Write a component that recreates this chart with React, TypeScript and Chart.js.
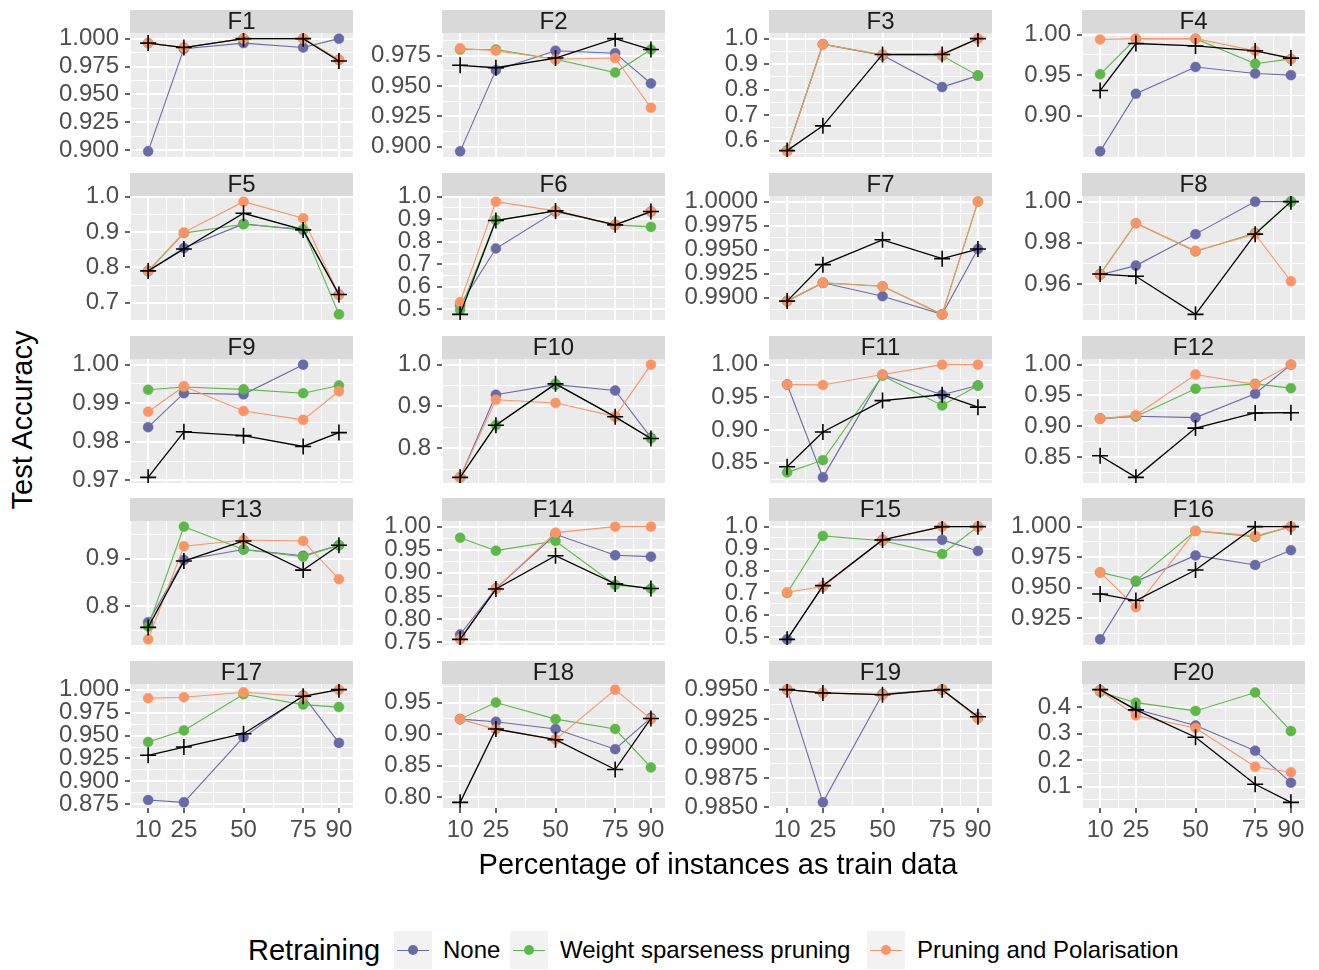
import React, { useEffect, useRef } from 'react';
import { Chart, registerables } from 'chart.js';

Chart.register(...registerables);

// ---------------- data ----------------
const X_VALUES = [10, 25, 50, 75, 90];
const PANEL_TITLES = ['F1', 'F2', 'F3', 'F4', 'F5', 'F6', 'F7', 'F8', 'F9', 'F10',
  'F11', 'F12', 'F13', 'F14', 'F15', 'F16', 'F17', 'F18', 'F19', 'F20'];
const SERIES_NAMES = ['None', 'Weight sparseness pruning', 'Pruning and Polarisation'];
const SERIES_COLORS = ['#6A6AA8', '#5CB947', '#FC9465'];

const NONE_VALUES: (number | null)[][] = [
  [0.899, 0.991, 0.996, 0.992, 1.000],
  [0.896, 0.963, 0.979, 0.977, 0.952],
  [0.561, 0.978, 0.935, 0.810, 0.855],
  [0.856, 0.927, 0.960, 0.952, 0.950],
  [0.790, 0.855, 0.923, 0.906, 0.723],
  [0.520, 0.770, 0.934, 0.875, 0.934],
  [0.98966, 0.99157, 0.99017, 0.98828, 0.99507],
  [0.9645, 0.9689, 0.9842, 1.0, 1.0],
  [0.9838, 0.9926, 0.9923, 1.0, null],
  [0.730, 0.928, 0.952, 0.938, 0.825],
  [0.9696, 0.8277, 0.9843, 0.9539, 0.968],
  [0.9124, 0.9161, 0.914, 0.9527, 1.0],
  [0.767, 0.897, 0.919, 0.906, 0.928],
  [0.7665, 0.866, 0.9835, 0.938, 0.935],
  [0.49, 0.729, 0.94, 0.94, 0.89],
  [0.9076, 0.955, 0.9764, 0.9686, 0.9807],
  [0.8797, 0.8772, 0.9483, 0.9935, 0.942],
  [0.9237, 0.9195, 0.908, 0.876, 0.9258],
  [0.995, 0.98543, 0.99463, 0.995, 0.99264],
  [0.463, 0.391, 0.330, 0.235, 0.115],
];

const WEIGHT_VALUES: (number | null)[][] = [
  [0.996, 0.992, 1.000, 1.000, 0.981],
  [0.980, 0.980, 0.972, 0.961, 0.980],
  [0.561, 0.978, 0.935, 0.933, 0.855],
  [0.951, 0.995, 0.995, 0.964, 0.970],
  [0.789, 0.897, 0.922, 0.908, 0.667],
  [0.498, 0.896, 0.937, 0.875, 0.866],
  [0.98966, 0.99155, 0.99120, 0.98828, 1.0],
  [0.9648, 0.9895, 0.9758, 0.9847, 1.0],
  [0.9935, 0.9942, 0.9936, 0.9926, 0.9946],
  [0.730, 0.855, 0.954, 0.875, 0.823],
  [0.8353, 0.854, 0.983, 0.9377, 0.968],
  [0.9124, 0.916, 0.9608, 0.9688, 0.9618],
  [0.758, 0.967, 0.919, 0.904, 0.928],
  [0.976, 0.948, 0.969, 0.874, 0.866],
  [0.70, 0.958, 0.936, 0.876, 1.0],
  [0.9625, 0.9557, 0.9965, 0.9916, 1.0],
  [0.943, 0.9556, 0.995, 0.9837, 0.981],
  [0.9237, 0.95, 0.9237, 0.908, 0.847],
  [0.995, 0.99472, 0.99457, 0.995, 0.99258],
  [0.457, 0.416, 0.385, 0.454, 0.309],
];

const POLAR_VALUES: (number | null)[][] = [
  [0.996, 0.992, 1.000, 1.000, 0.981],
  [0.981, 0.979, 0.972, 0.973, 0.932],
  [0.558, 0.978, 0.938, 0.935, 1.000],
  [0.994, 0.995, 0.995, 0.980, 0.970],
  [0.790, 0.899, 0.986, 0.939, 0.722],
  [0.532, 0.978, 0.937, 0.875, 0.934],
  [0.98966, 0.99155, 0.99120, 0.98828, 1.0],
  [0.9645, 0.9895, 0.9761, 0.9842, 0.9613],
  [0.9878, 0.9944, 0.9880, 0.9857, 0.9931],
  [0.730, 0.916, 0.908, 0.876, 1.0],
  [0.9696, 0.969, 0.985, 1.0, 1.0],
  [0.912, 0.918, 0.984, 0.968, 1.0],
  [0.731, 0.926, 0.939, 0.937, 0.857],
  [0.756, 0.866, 0.987, 1.0, 1.0],
  [0.703, 0.729, 0.94, 1.0, 1.0],
  [0.9625, 0.934, 0.9965, 0.9924, 1.0],
  [0.9906, 0.9917, 0.9971, 0.9928, 1.0],
  [0.9237, 0.9074, 0.8916, 0.9705, 0.9237],
  [0.995, 0.99472, 0.99455, 0.995, 0.99258],
  [0.461, 0.368, 0.321, 0.175, 0.154],
];

const BASELINE_VALUES: (number | null)[][] = [
  [0.996, 0.992, 1.000, 1.000, 0.980],
  [0.967, 0.965, 0.973, 0.989, 0.980],
  [0.561, 0.658, 0.938, 0.938, 1.000],
  [0.931, 0.989, 0.986, 0.980, 0.971],
  [0.790, 0.852, 0.953, 0.906, 0.723],
  [0.478, 0.894, 0.937, 0.875, 0.934],
  [0.98966, 0.99345, 0.99603, 0.99407, 0.99507],
  [0.9648, 0.9637, 0.9452, 0.9842, 1.0],
  [0.9708, 0.9826, 0.9816, 0.9788, 0.9824],
  [0.730, 0.855, 0.954, 0.875, 0.823],
  [0.844, 0.897, 0.945, 0.954, 0.935],
  [0.852, 0.817, 0.897, 0.9215, 0.922],
  [0.756, 0.895, 0.937, 0.876, 0.928],
  [0.756, 0.865, 0.937, 0.876, 0.866],
  [0.49, 0.733, 0.94, 1.0, 1.0],
  [0.9448, 0.9394, 0.9644, 1.0, 1.0],
  [0.9285, 0.9375, 0.952, 0.9928, 1.0],
  [0.7916, 0.908, 0.891, 0.8437, 0.9247],
  [0.995, 0.99472, 0.99457, 0.995, 0.9927],
  [0.465, 0.389, 0.286, 0.109, 0.041],
];

const Y_TICKS: number[][] = [
  [0.9, 0.925, 0.95, 0.975, 1.0],
  [0.9, 0.925, 0.95, 0.975],
  [0.6, 0.7, 0.8, 0.9, 1.0],
  [0.9, 0.95, 1.0],
  [0.7, 0.8, 0.9, 1.0],
  [0.5, 0.6, 0.7, 0.8, 0.9, 1.0],
  [0.99, 0.9925, 0.995, 0.9975, 1.0],
  [0.96, 0.98, 1.0],
  [0.97, 0.98, 0.99, 1.0],
  [0.8, 0.9, 1.0],
  [0.85, 0.9, 0.95, 1.0],
  [0.85, 0.9, 0.95, 1.0],
  [0.8, 0.9],
  [0.75, 0.8, 0.85, 0.9, 0.95, 1.0],
  [0.5, 0.6, 0.7, 0.8, 0.9, 1.0],
  [0.925, 0.95, 0.975, 1.0],
  [0.875, 0.9, 0.925, 0.95, 0.975, 1.0],
  [0.8, 0.85, 0.9, 0.95],
  [0.985, 0.9875, 0.99, 0.9925, 0.995],
  [0.1, 0.2, 0.3, 0.4],
];
const Y_DECIMALS = [3, 3, 1, 2, 1, 1, 4, 2, 2, 1, 2, 2, 1, 2, 1, 3, 3, 2, 4, 1];

// ---------------- layout / style ----------------
const FONT = '"Liberation Sans", Arial, Helvetica, sans-serif';
const COL_LEFT = [130, 442, 769, 1082];
const ROW_TOP = [10, 173, 336, 498, 661];
const PANEL_W = 223;
const PANEL_H = 124;
const STRIP_H = 23;
const Y_AXIS_W = 88;
const X_AXIS_H = 45;
const OVERFLOW_H = 14;
const X_MIN = 2.4;
const X_MAX = 95.9;
const TICK_FONT = 24;

Chart.defaults.font.family = FONT;

const near = (a: number, b: number) => Math.abs(a - b) < 1e-9;

function minorBreaks(majors: number[], lo: number, hi: number): number[] {
  const bd = majors[1] - majors[0];
  const b = [...majors];
  if (lo < b[0]) b.unshift(b[0] - bd);
  if (hi > b[b.length - 1]) b.push(b[b.length - 1] + bd);
  const out: number[] = [];
  for (let i = 0; i < b.length - 1; i++) out.push((b[i] + b[i + 1]) / 2);
  return out.filter((v) => v >= lo && v <= hi && !majors.some((m) => near(m, v)));
}

const stripPlugin = {
  id: 'facetStrip',
  beforeDraw(chart: any, _args: any, opts: any) {
    const { ctx, chartArea: a } = chart;
    ctx.save();
    ctx.fillStyle = '#EBEBEB';
    ctx.fillRect(a.left, a.top, a.right - a.left, a.bottom - a.top);
    ctx.fillStyle = '#D9D9D9';
    ctx.fillRect(a.left, a.top - STRIP_H, a.right - a.left, STRIP_H);
    ctx.fillStyle = '#1A1A1A';
    ctx.font = `${TICK_FONT}px ${FONT}`;
    ctx.textAlign = 'center';
    ctx.textBaseline = 'middle';
    ctx.fillText(opts.text, (a.left + a.right) / 2, a.top - STRIP_H / 2 + 1);
    ctx.restore();
  },
};

function Panel({ index }: { index: number }) {
  const ref = useRef<HTMLCanvasElement>(null);
  const col = index % 4;
  const row = Math.floor(index / 4);
  const isBottom = row === 4;
  const bottomPad = isBottom ? 0 : OVERFLOW_H;
  const width = Y_AXIS_W + PANEL_W;
  const height = STRIP_H + PANEL_H + (isBottom ? X_AXIS_H : OVERFLOW_H);

  useEffect(() => {
    if (!ref.current) return;
    const seriesRows = [BASELINE_VALUES[index], POLAR_VALUES[index], WEIGHT_VALUES[index], NONE_VALUES[index]];
    const all = seriesRows.flat().filter((v) => v !== null) as number[];
    const lo = Math.min(...all);
    const hi = Math.max(...all);
    const pad = (hi - lo) * 0.05;
    const yMin = lo - pad;
    const yMax = hi + pad;
    const yMajors = Y_TICKS[index].filter((v) => v >= yMin && v <= yMax);
    const yTicks = [...yMajors, ...minorBreaks(Y_TICKS[index], yMin, yMax)].sort((a, b) => a - b);
    const xTicks = [...X_VALUES, ...minorBreaks(X_VALUES, X_MIN, X_MAX)].sort((a, b) => a - b);
    const isXMajor = (v: number) => X_VALUES.some((m) => near(m, v));
    const isYMajor = (v: number) => yMajors.some((m) => near(m, v));

    const toPoints = (vals: (number | null)[]) =>
      X_VALUES.map((x, i) => ({ x, y: vals[i] })).filter((p) => p.y !== null);

    const colored = [2, 1, 0].map((s) => ({
      label: SERIES_NAMES[s],
      data: toPoints([NONE_VALUES, WEIGHT_VALUES, POLAR_VALUES][s][index]),
      borderColor: SERIES_COLORS[s],
      backgroundColor: SERIES_COLORS[s],
      borderWidth: 1.1,
      pointRadius: 5,
      pointBorderWidth: 0.5,
      pointStyle: 'circle',
      pointBackgroundColor: SERIES_COLORS[s],
      pointBorderColor: SERIES_COLORS[s],
    }));
    const baseline = {
      label: 'Baseline',
      data: toPoints(BASELINE_VALUES[index]),
      borderColor: '#000000',
      backgroundColor: '#000000',
      borderWidth: 1.3,
      pointRadius: 8,
      pointBorderWidth: 1.6,
      pointStyle: 'cross',
      pointBorderColor: '#000000',
    };

    const chart = new Chart(ref.current, {
      type: 'line',
      data: { datasets: [baseline, ...colored] as any },
      plugins: [stripPlugin as any],
      options: {
        animation: false,
        responsive: false,
        maintainAspectRatio: false,
        layout: { autoPadding: false, padding: { top: STRIP_H, left: 0, right: 0, bottom: bottomPad } },
        plugins: {
          legend: { display: false },
          tooltip: { enabled: false },
          title: { display: false },
          facetStrip: { text: PANEL_TITLES[index] },
        } as any,
        scales: {
          x: {
            type: 'linear',
            min: X_MIN,
            max: X_MAX,
            afterBuildTicks: (s: any) => {
              s.ticks = xTicks.map((v) => ({ value: v }));
            },
            afterFit: (s: any) => {
              s.height = isBottom ? X_AXIS_H : 0;
              s.paddingLeft = 0;
              s.paddingRight = 0;
            },
            border: { display: false },
            grid: {
              color: '#FFFFFF',
              lineWidth: (c: any) => (c.tick && isXMajor(c.tick.value) ? 2 : 1),
              drawTicks: isBottom,
              tickLength: 5,
              tickWidth: 1.5,
              tickColor: (c: any) => (c.tick && isXMajor(c.tick.value) ? '#333333' : 'rgba(0,0,0,0)'),
            },
            ticks: {
              display: isBottom,
              autoSkip: false,
              maxRotation: 0,
              padding: 3,
              color: '#4D4D4D',
              font: { size: TICK_FONT, family: FONT },
              callback: (v: any) => (isXMajor(Number(v)) ? String(v) : ''),
            },
          },
          y: {
            type: 'linear',
            min: yMin,
            max: yMax,
            afterBuildTicks: (s: any) => {
              s.ticks = yTicks.map((v) => ({ value: v }));
            },
            afterFit: (s: any) => {
              s.width = Y_AXIS_W;
              s.paddingTop = 0;
              s.paddingBottom = 0;
            },
            border: { display: false },
            grid: {
              color: '#FFFFFF',
              lineWidth: (c: any) => (c.tick && isYMajor(c.tick.value) ? 2 : 1),
              drawTicks: true,
              tickLength: 5,
              tickWidth: 1.5,
              tickColor: (c: any) => (c.tick && isYMajor(c.tick.value) ? '#333333' : 'rgba(0,0,0,0)'),
            },
            ticks: {
              autoSkip: false,
              padding: 6,
              color: '#4D4D4D',
              font: { size: TICK_FONT, family: FONT },
              callback: (v: any) => (isYMajor(Number(v)) ? Number(v).toFixed(Y_DECIMALS[index]) : ''),
            },
          },
        },
      },
    });
    return () => chart.destroy();
  }, [index]);

  return (
    <canvas
      ref={ref}
      width={width}
      height={height}
      style={{
        position: 'absolute',
        left: COL_LEFT[col] - Y_AXIS_W,
        top: ROW_TOP[row],
        width,
        height,
      }}
    />
  );
}

function LegendKey({ color }: { color: string }) {
  return (
    <div style={{ position: 'relative', width: 38, height: 38, background: '#F2F2F2' }}>
      <div style={{ position: 'absolute', left: 3, right: 3, top: 18.5, height: 1.2, background: color }} />
      <div style={{ position: 'absolute', left: 14, top: 14, width: 10, height: 10, borderRadius: '50%', background: color }} />
    </div>
  );
}

export default function App() {
  const legendLefts = [394, 510, 867];
  const legendTextLefts = [443, 560, 917];
  return (
    <div style={{ position: 'absolute', left: 0, top: 0, width: 1319, height: 970, background: '#FFFFFF', fontFamily: FONT, overflow: 'hidden' }}>
      {PANEL_TITLES.map((_, i) => (
        <Panel key={i} index={i} />
      ))}
      <div style={{ position: 'absolute', left: 22, top: 420, transform: 'translate(-50%, -50%) rotate(-90deg)', fontSize: 29, color: '#000', whiteSpace: 'nowrap' }}>
        Test Accuracy
      </div>
      <div style={{ position: 'absolute', left: 718, top: 864, transform: 'translate(-50%, -50%)', fontSize: 29, color: '#000', whiteSpace: 'nowrap' }}>
        Percentage of instances as train data
      </div>
      <div style={{ position: 'absolute', left: 248, top: 950, transform: 'translateY(-50%)', fontSize: 29, color: '#000', whiteSpace: 'nowrap' }}>
        Retraining
      </div>
      {SERIES_NAMES.map((name, i) => (
        <React.Fragment key={name}>
          <div style={{ position: 'absolute', left: legendLefts[i], top: 931 }}>
            <LegendKey color={SERIES_COLORS[i]} />
          </div>
          <div style={{ position: 'absolute', left: legendTextLefts[i], top: 950, transform: 'translateY(-50%)', fontSize: 24, color: '#000', whiteSpace: 'nowrap' }}>
            {name}
          </div>
        </React.Fragment>
      ))}
    </div>
  );
}
